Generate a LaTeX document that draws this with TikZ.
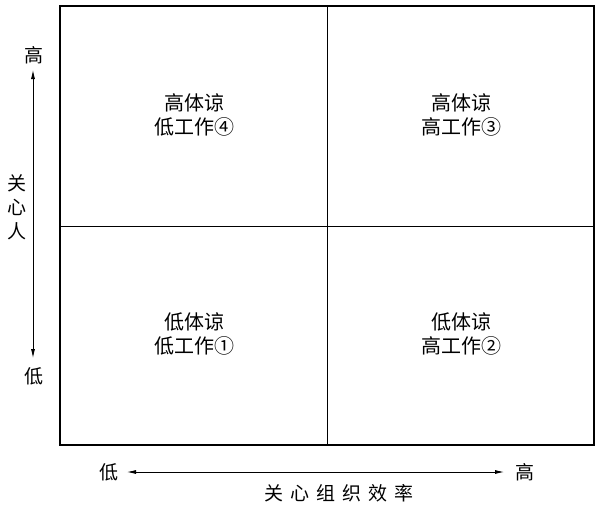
\documentclass[tikz,border=0pt]{standalone}
\usepackage{fontspec}
\newfontfamily\cjk{Noto Sans CJK SC}
\usetikzlibrary{arrows.meta}
\begin{document}
\begin{tikzpicture}[x=1pt,y=-1pt,
  lbl/.style={font=\cjk\fontsize{19}{24}\selectfont, inner sep=0pt, align=center},
  quad/.style={font=\cjk\fontsize{20}{24}\selectfont, inner sep=0pt, align=center},
  axis/.style={line width=0.8pt, -{Latex[length=9pt,width=4pt]}}]
\useasboundingbox (0,0) rectangle (600,512);
\fill[white] (0,0) rectangle (600,512);
\draw[line width=2pt] (60,6) rectangle (594,445);
\coordinate (mt) at (327,6);
\coordinate (mb) at (327,445);
\coordinate (ml) at (60,226);
\coordinate (mr) at (594,226);
\draw[line width=0.8pt] (mt) -- (mb);
\draw[line width=0.8pt] (ml) -- (mr);
\node[quad] (q4) at (194,115) {高体谅\\低工作④};
\node[quad] (q3) at (461,115) {高体谅\\高工作③};
\node[quad] (q1) at (194,334) {低体谅\\低工作①};
\node[quad] (q2) at (461,334) {低体谅\\高工作②};
\node[lbl] (yhi) at (34,55) {高};
\node[lbl] (ylo) at (34,376) {低};
\node[lbl] (ylab) at (17,207) {关\\心\\人};
\node[lbl] (xlo) at (109,472) {低};
\node[lbl] (xhi) at (525,472) {高};
\node[lbl] (xlab) at (339,493) {关\hspace{7pt}心\hspace{7pt}组\hspace{7pt}织\hspace{7pt}效\hspace{7pt}率};
\coordinate (vc) at (33,214);
\coordinate (vt) at (33,70);
\coordinate (vb) at (33,358);
\coordinate (hc) at (315,472);
\coordinate (hl) at (127,472);
\coordinate (hr) at (504,472);
\draw[axis] (vc) -- (vt);
\draw[axis] (vc) -- (vb);
\draw[axis] (hc) -- (hl);
\draw[axis] (hc) -- (hr);
\end{tikzpicture}
\end{document}
